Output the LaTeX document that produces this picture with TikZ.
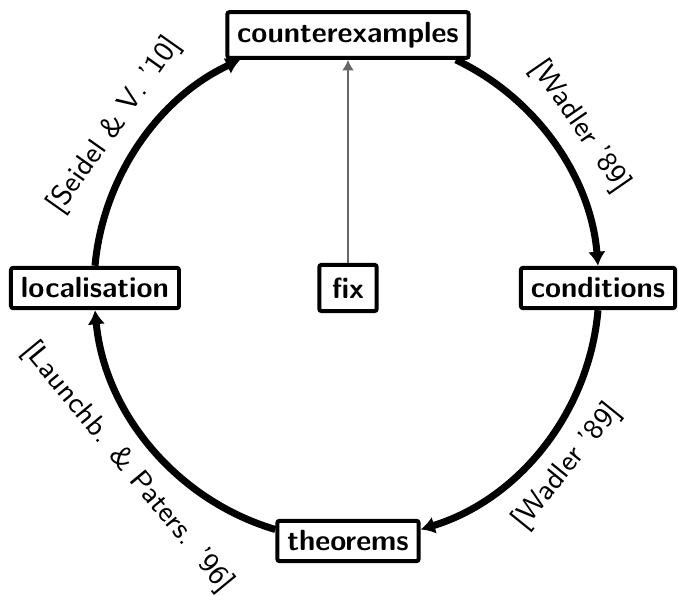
\documentclass[tikz,border=0pt]{standalone}
\usepackage{tikz}
\usetikzlibrary{positioning,arrows.meta}
\tikzset{
  resbox/.style={draw, line width=3.4pt, rounded corners=2pt, fill=white,
                 inner sep=8.5pt, font=\Huge\sffamily\bfseries},
  fixbox/.style={resbox, inner sep=11pt},
  ring/.style={-{Latex[length=12pt,width=15pt]}, line width=6pt},
  cite/.style={font=\sffamily\fontsize{9}{11}\selectfont, scale=2.75, sloped,
               midway, inner sep=2.2pt},
  fixarrow/.style={-{Latex[length=9pt,width=10pt]}, line width=1.1pt, black!60}
}
\begin{document}
\begin{tikzpicture}
\useasboundingbox (-10.44,-9.24) rectangle (9.9,8.64);
\node[resbox] (cex) at (0,7.59) {counterexamples};
\node[resbox] (cond) at (7.5,0) {conditions};
\node[resbox] (thm) at (0,-7.59) {theorems};
\node[resbox] (loc) at (-7.59,0) {localisation};
\node[fixbox] (fix) at (0,0) {fix};
\draw[ring] (cex.-13) to[bend left=30, looseness=0.91]
  node[cite, above] {[Wadler '89]} (cond.north);
\draw[ring] (cond.south) to[bend left=34, looseness=0.93]
  node[cite, below] {[Wadler '89]} (thm.9);
\draw[ring] (thm.171) to[bend left=34, looseness=0.93]
  node[cite, below] {[Launchb. \& Paters. '96]} (loc.south);
\draw[ring] (loc.north) to[bend left=30, looseness=0.91]
  node[cite, above] {[Seidel \& V. '10]} (cex.-167);
\draw[fixarrow] (fix) -- (cex);
\end{tikzpicture}
\end{document}
